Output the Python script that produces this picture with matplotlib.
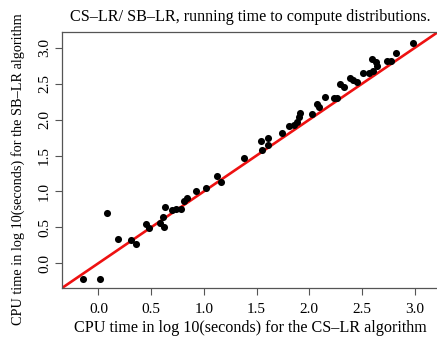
import matplotlib
matplotlib.use('Agg')
import matplotlib.pyplot as plt

# values (log10 seconds)
cs_lr=[-0.15,0.02,0.08,0.19,0.31,0.36,0.45,0.48,0.58,0.61,0.62,0.63,0.70,0.74,0.78,0.81,0.84,0.93,1.02,1.12,1.16,
       1.38,1.54,1.55,1.61,1.61,1.74,1.81,1.85,1.88,1.90,1.91,2.03,2.07,2.09,2.15,2.23,2.26,2.29,2.33,2.39,2.41,2.45,
       2.51,2.57,2.60,2.59,2.63,2.64,2.74,2.77,2.82,2.98]
sb_lr=[-0.22,-0.22,0.70,0.34,0.33,0.27,0.55,0.49,0.56,0.64,0.50,0.78,0.74,0.76,0.76,0.87,0.91,1.00,1.05,1.21,1.13,
       1.46,1.70,1.58,1.75,1.65,1.82,1.91,1.93,1.97,2.03,2.09,2.08,2.22,2.18,2.32,2.30,2.30,2.50,2.45,2.58,2.55,2.52,
       2.65,2.65,2.68,2.84,2.80,2.74,2.82,2.81,2.93,3.07]
ticks=[0.0,0.5,1.0,1.5,2.0,2.5,3.0]
tick_labels=['0.0','0.5','1.0','1.5','2.0','2.5','3.0']

plt.rcParams['font.family']=['Liberation Serif','DejaVu Serif']
fig=plt.figure(figsize=(4.37,3.39),dpi=100)
W,H=437,339
ax=fig.add_axes([62/W,1-288/H,(438-62)/W,(288-32)/H])
lo,hi=-0.345,3.22
ax.set_xlim(lo,hi);ax.set_ylim(lo,hi)
ax.scatter(cs_lr,sb_lr,s=26,color='black',zorder=3,linewidths=0)
ax.plot([lo,hi],[lo,hi],color='#ee1111',lw=1.9,zorder=2)
ax.set_xticks(ticks);ax.set_xticklabels(tick_labels)
ax.set_yticks(ticks);ax.set_yticklabels(tick_labels,rotation=90,va='center')
ax.tick_params(axis='both',direction='out',length=5,width=0.8,color='#555555',labelsize=11)
ax.tick_params(axis='x',pad=6)
ax.tick_params(axis='y',pad=3)
for s in ax.spines.values():s.set_color('#555555');s.set_linewidth(0.9)
ax.spines['right'].set_visible(False)  # box edge falls just outside the cropped reference
ax.set_title('CS\u2013LR/ SB\u2013LR, running time to compute distributions.',fontsize=11.6,pad=8)
ax.set_xlabel('CPU time in log 10(seconds) for the CS\u2013LR algorithm',fontsize=11.6,labelpad=3)
# y label placed by hand: in the reference it sits a bit below the axes centre
fig.text(18/W,1-169/H,'CPU time in log 10(seconds) for the SB\u2013LR algorithm',fontsize=10.3,rotation=90,ha='center',va='center')
fig.savefig('out.png',dpi=100)
